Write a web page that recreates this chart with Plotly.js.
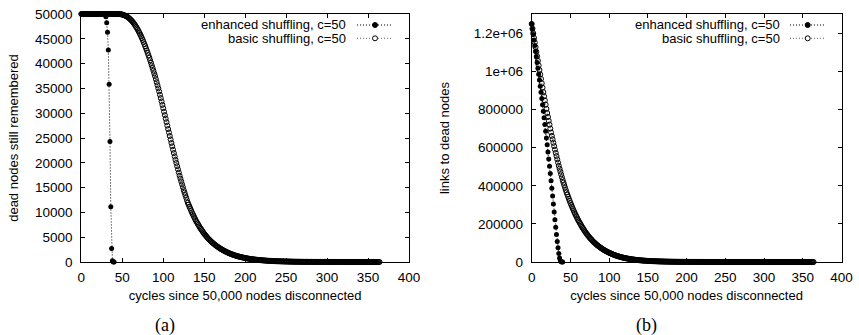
<!DOCTYPE html>
<html>
<head>
<meta charset="utf-8">
<script src="https://cdn.plot.ly/plotly-3.0.1.min.js"></script>
<style>
html,body{margin:0;padding:0;background:#fff;}
#chart{width:859px;height:335px;}
</style>
</head>
<body>
<div id="chart"></div>
<script>
// ---------- data (one per cycle starting at cycle 0) ----------
const startCycle = 0;

// (a) dead nodes still remembered
const deadEnhanced = [
  50000,50000,50000,50000,50000,50000,50000,50000,50000,50000,
  50000,50000,50000,50000,50000,50000,50000,50000,50000,50000,
  50000,50000,50000,50000,50000,50000,50000,50000,50000,49900,
  49460,48250,46300,42750,35850,24300,11150,2700,270,20,0
];
const deadBasic = [
  50000,50000,50000,50000,50000,50000,50000,50000,50000,50000,
  50000,50000,50000,50000,50000,50000,50000,50000,50000,50000,
  50000,50000,50000,50000,50000,50000,50000,50000,50000,50000,
  50000,50000,50000,50000,50000,50000,50000,50000,50000,50000,
  50000,50000,50000,50000,50000,50000,
  49990,49980,49960,49930,49890,49840,49780,49710,49630,49540,
  49440,49330,49200,49060,48900,48730,48550,48350,48130,47900,
  47650,47390,47110,46820,46510,46190,45850,45500,45130,44750,
  44350,43940,43510,43070,42620,42150,41670,41180,40680,40170,
  39650,39120,38580,38030,
  37500,
  36880,36260,35640,35020,34400,
  33720,33040,32360,31680,31000,
  30300,29600,28900,28200,27500,
  26800,26100,25400,24700,24000,
  23320,22640,21960,21280,20600,
  19960,19320,18680,18040,17400,
  16820,16240,15660,15080,14500,
  13990,13480,12970,12460,11950,
  11560,11170,10780,10390,10000,
  9660,9320,8980,8640,8300,
  8020,7740,7460,7180,6900,
  6660,6420,6180,5940,5700,
  5500,5300,5100,4900,4700,
  4540,4380,4220,4060,3900,
  3770,3630,3500,3360,3230,
  3120,3010,2890,2780,2670,
  2580,2480,2390,2290,2200,
  2120,2040,1960,1880,1800,
  1730,1670,1600,1540,1470,
  1420,1360,1310,1250,1200,
  1160,1110,1070,1020,980,
  940,910,870,840,800,
  770,740,710,680,650,
  630,600,580,550,530,
  510,490,470,450,430,
  410,400,380,370,350,
  340,320,310,300,285,
  274,263,252,241,230,
  221,212,203,194,185,
  178,171,164,157,150,
  144,139,133,128,122,
  118,113,109,104,100,
  96,92,88,84,80,76,72,69,65,62,
  60,57,55,53,51,49,47,45,43,41,
  40,38,37,35,34,32,31,30,28,27,
  26,25,24,23,22,21,20,20,19,18,
  17,17,16,15,15,14,14,13,13,12,
  12,11,11,10,10,10,9,9,8,8,
  8,7,7,7,6,6,6,6,5,5,
  5,5,4,4,4,4,4,3,3,3,
  3,3,3,3,2,2,2,2,2,2,
  2,2,2,2,1,1,1,1,1,1,1,1,1,1,1,1,1,1,1,1,1,1,1,1
];

// (b) links to dead nodes
const linksEnhanced = [
  1250000,1222000,1194000,1165000,1136000,1107000,1077000,1047000,1017000,986000,
  955000,923000,891000,858000,825000,791000,757000,722000,687000,651000,
  615000,578000,541000,503000,465000,426000,387000,347000,305000,263000,
  222000,182000,144000,108000,75000,45000,21000,6000,800,0,0
];
const linksBasic = [
  1250000,
  1225600,1201200,1176800,1152400,1128000,
  1104000,1080000,1056000,1032000,1008000,
  984800,961600,938400,915200,892000,
  870000,848000,826000,804000,782000,
  761600,741200,720800,700400,680000,
  662000,644000,626000,608000,590000,
  573000,556000,539000,522000,505000,
  490000,475000,460000,445000,430000,
  417000,404000,391000,378000,365000,
  354000,343000,332000,321000,310000,
  300400,290800,281200,271600,262000,
  253600,245200,236800,228400,220000,
  212800,205600,198400,191200,184000,
  177800,171600,165400,159200,153000,
  147800,142600,137400,132200,127000,
  122600,118200,113800,109400,105000,
  101400,97800,94200,90600,87000,
  84000,81000,78000,75000,72000,
  69400,66800,64200,61600,59000,
  56900,54800,52700,50600,48500,
  46700,44900,43100,41300,39500,
  38000,36500,35000,33500,32000,
  30800,29600,28400,27200,26000,
  25000,24000,23000,22000,21000,
  20200,19400,18600,17800,17000,
  16340,15680,15020,14360,13700,
  13160,12620,12080,11540,11000,
  10580,10160,9740,9320,8900,
  8560,8220,7880,7540,7200,
  6920,6640,6360,6080,5800,
  5580,5360,5140,4920,4700,
  4520,4340,4160,3980,3800,
  3650,3500,3350,3200,3050,
  2930,2810,2690,2570,2450,
  2350,2260,2160,2070,1970,
  1890,1810,1740,1660,1580,
  1520,1460,1390,1330,1270,
  1220,1170,1120,1070,1020,
  980,940,900,860,820,
  790,760,720,690,660,
  630,600,570,550,520,500,470,450,430,410,
  390,370,360,340,330,310,300,280,270,260,
  250,240,230,220,210,200,190,180,170,165,
  158,151,144,138,132,126,120,115,110,105,
  100,96,92,88,84,80,76,73,70,67,
  64,61,58,56,53,51,49,47,45,43,
  41,39,37,36,34,33,31,30,29,27,
  26,25,24,23,22,21,20,19,18,17,
  17,16,15,15,14,13,13,12,12,11,
  11,10,10,9,9,9,8,8,8,7,
  7,7,6,6,6,6,5,5,5,5,
  5,4,4,4,4,4,4,3,3,3,
  3,3,3,3,3,3,2,2,2,2,2,2,2,2,2,2,2,2,2,2,
  1,1,1,1,1,1,1,1,1,1,1,1,1,1,1,1,1,1,1,1,1,1,1,1
];

const seriesNames = ['enhanced shuffling, c=50', 'basic shuffling, c=50'];
const xTicks = [0, 50, 100, 150, 200, 250, 300, 350, 400];
const yTicksA = [0, 5000, 10000, 15000, 20000, 25000, 30000, 35000, 40000, 45000, 50000];
const yTickTextA = ['0', '5000', '10000', '15000', '20000', '25000', '30000', '35000', '40000', '45000', '50000'];
const yTicksB = [0, 200000, 400000, 600000, 800000, 1000000, 1200000];
const yTickTextB = ['0', '200000', '400000', '600000', '800000', '1e+06', '1.2e+06'];
const xTitle = 'cycles since 50,000 nodes disconnected';
const yTitleA = 'dead nodes still remembered';
const yTitleB = 'links to dead nodes';
const panelLabels = ['(a)', '(b)'];

// ---------- drawing ----------
const W = 859, H = 335;
const px = v => v / W;
const py = v => 1 - v / H;
const cyc = arr => arr.map((_, i) => startCycle + i);
const FONT = '"Liberation Sans", Arial, Helvetica, sans-serif';
const DOT = '1px,2px';

function enhTrace(y, xa, ya) {
  return {x: cyc(y), y: y, xaxis: xa, yaxis: ya, type: 'scatter', mode: 'lines+markers',
    name: seriesNames[0], cliponaxis: false, showlegend: false,
    line: {color: '#000', width: 1, dash: DOT},
    marker: {symbol: 'circle', size: 5, color: '#000'}};
}
function basTrace(y, xa, ya) {
  return {x: cyc(y), y: y, xaxis: xa, yaxis: ya, type: 'scatter', mode: 'lines+markers',
    name: seriesNames[1], cliponaxis: false, showlegend: false,
    line: {color: '#666', width: 1, dash: DOT},
    marker: {symbol: 'circle-open', size: 5, color: '#000', line: {width: 1, color: '#000'}}};
}

const data = [
  basTrace(deadBasic, 'x', 'y'),
  enhTrace(deadEnhanced, 'x', 'y'),
  basTrace(linksBasic, 'x2', 'y2'),
  enhTrace(linksEnhanced, 'x2', 'y2')
];

const axisCommon = {
  showline: true, linecolor: '#000', linewidth: 1, mirror: 'allticks',
  ticks: 'inside', ticklen: 4, tickcolor: '#000', tickwidth: 1,
  showgrid: false, zeroline: false, automargin: false,
  tickfont: {family: FONT, size: 13.5, color: '#000'}
};

const yDom = [1 - 262 / H, 1 - 14 / H];

const layout = {
  width: W, height: H,
  margin: {l: 0, r: 0, t: 0, b: 0},
  paper_bgcolor: '#fff', plot_bgcolor: '#fff',
  showlegend: false,
  font: {family: FONT, size: 13, color: '#000'},
  xaxis: Object.assign({}, axisCommon, {domain: [px(81.3), px(409)], range: [0, 400],
    tickvals: xTicks, anchor: 'y', ticklabelstandoff: 3,
    title: {text: xTitle, font: {family: FONT, size: 13}, standoff: 6}}),
  yaxis: Object.assign({}, axisCommon, {domain: yDom, range: [0, 50000],
    tickvals: yTicksA, ticktext: yTickTextA, anchor: 'x', ticklabelstandoff: 5,
    title: {text: yTitleA, font: {family: FONT, size: 13}, standoff: 13}}),
  xaxis2: Object.assign({}, axisCommon, {domain: [px(531.7), px(841.5)], range: [0, 400],
    tickvals: xTicks, anchor: 'y2', ticklabelstandoff: 3,
    title: {text: xTitle, font: {family: FONT, size: 13}, standoff: 6}}),
  yaxis2: Object.assign({}, axisCommon, {domain: yDom, range: [0, 1302000],
    tickvals: yTicksB, ticktext: yTickTextB, anchor: 'x2', ticklabelstandoff: 5,
    title: {text: yTitleB, font: {family: FONT, size: 13}, standoff: 21}}),
  annotations: [],
  shapes: []
};

// legends drawn gnuplot-style: text on the left, sample on the right
const legends = [
  {textRight: 348, lineX0: 357, lineX1: 392, markX: 375},
  {textRight: 781.7, lineX0: 790, lineX1: 825, markX: 807.7}
];
const rowsY = [25, 38.3];
legends.forEach(lg => {
  rowsY.forEach((ry, k) => {
    layout.annotations.push({xref: 'paper', yref: 'paper', x: px(lg.textRight), y: py(ry),
      xanchor: 'right', yanchor: 'middle', showarrow: false, text: seriesNames[k],
      font: {family: FONT, size: 13, color: '#000'}});
    layout.shapes.push({type: 'line', xref: 'paper', yref: 'paper',
      x0: px(lg.lineX0), x1: px(lg.lineX1), y0: py(ry), y1: py(ry),
      line: {color: k === 0 ? '#000' : '#666', width: 1, dash: DOT}});
    layout.shapes.push({type: 'circle', xref: 'paper', yref: 'paper',
      x0: px(lg.markX - 2.5), x1: px(lg.markX + 2.5), y0: py(ry + 2.5), y1: py(ry - 2.5),
      fillcolor: k === 0 ? '#000' : '#fff', line: {color: '#000', width: 1}});
  });
});

// panel labels
[[165, panelLabels[0]], [646.7, panelLabels[1]]].forEach(([x, t]) => {
  layout.annotations.push({xref: 'paper', yref: 'paper', x: px(x), y: py(325),
    xanchor: 'center', yanchor: 'middle', showarrow: false, text: t,
    font: {family: '"Liberation Serif", "Times New Roman", serif', size: 18, color: '#000'}});
});

Plotly.newPlot('chart', data, layout, {staticPlot: true, displayModeBar: false});
</script>
</body>
</html>
